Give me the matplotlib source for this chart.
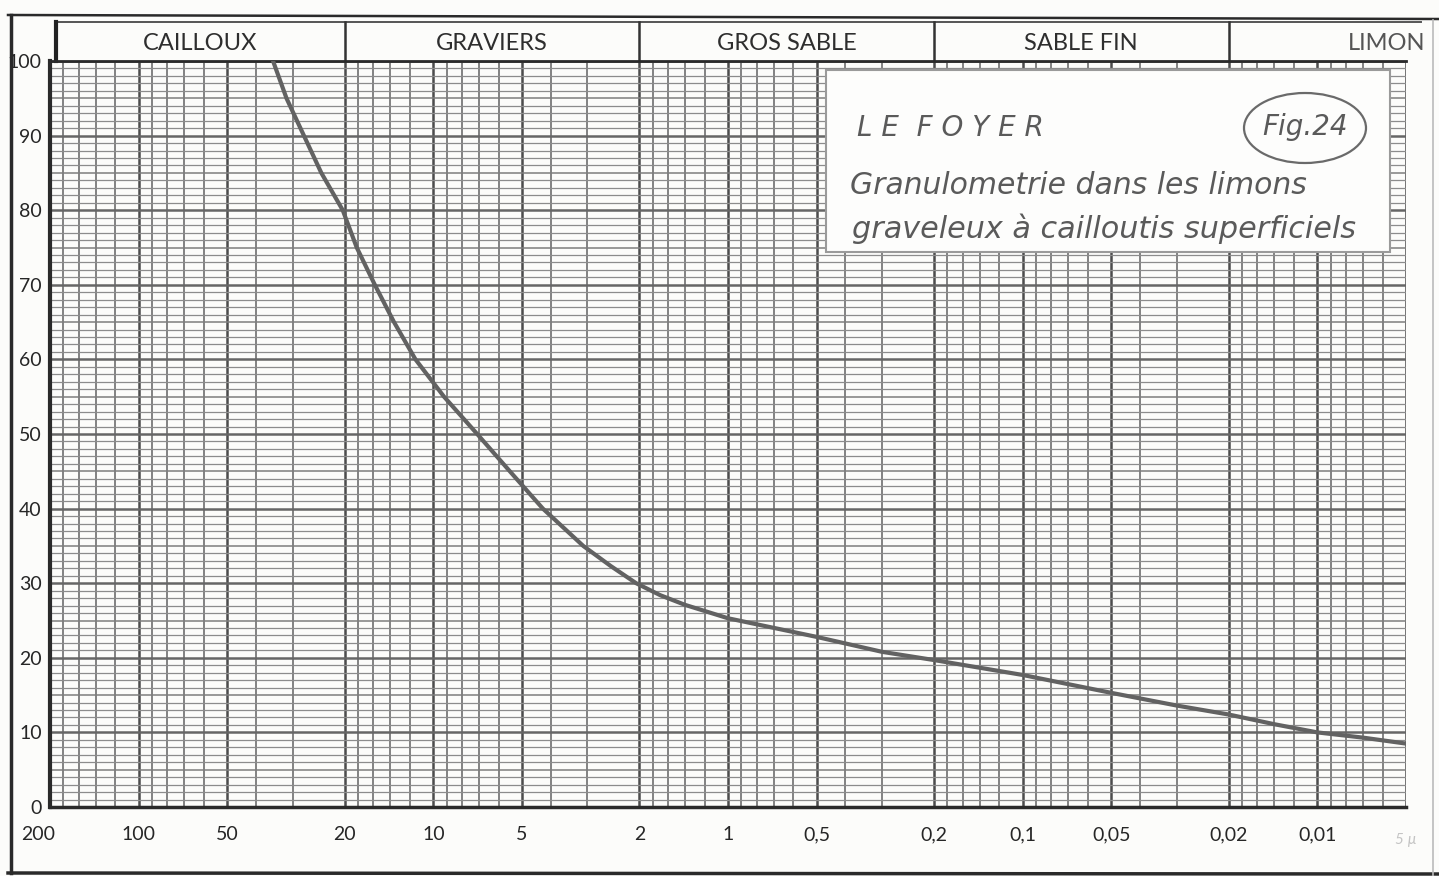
import numpy as np
import matplotlib.pyplot as plt
import matplotlib.transforms as mtransforms
from matplotlib.lines import Line2D
from matplotlib.patches import Rectangle, Ellipse

# grain size (mm) and cumulative percentage passing
sizes = [35, 31.5, 27.5, 24, 20.3, 18.2, 15.8, 13.6, 11.5, 9.2, 7.1, 5.5,
         4.25, 3.1, 2.5, 2.05, 1.7, 1.4, 1.0, 0.5, 0.3, 0.2, 0.1, 0.05,
         0.03, 0.02, 0.014, 0.01, 0.007, 0.005]
passing = [100, 95, 90, 85, 80, 75, 70, 65, 60, 55, 50, 45,
           40, 35, 32.3, 30, 28.4, 27.1, 25.3, 22.8, 20.8, 19.7, 17.7, 15.3,
           13.6, 12.4, 11.1, 10.0, 9.3, 8.5]

x_ticks = [200, 100, 50, 20, 10, 5, 2, 1, 0.5, 0.2, 0.1, 0.05, 0.02, 0.01]
x_labels = ["200", "100", "50", "20", "10", "5", "2", "1", "0,5", "0,2",
            "0,1", "0,05", "0,02", "0,01"]
y_ticks = list(range(0, 101, 10))

classes = ["CAILLOUX", "GRAVIERS", "GROS SABLE", "SABLE FIN", "LIMON"]
class_bounds = [191, 20, 2, 0.2, 0.02, 0.00445]

W, H = 1439, 876
fig = plt.figure(figsize=(W / 100, H / 100), dpi=100)
fig.patch.set_facecolor("#fcfcfa")
ax = fig.add_axes([50 / W, 69 / H, 1356 / W, 746 / H])
ax.set_facecolor("#fcfcfa")
ax.set_xscale("log")
ax.set_xlim(200, 0.005)
ax.set_ylim(0, 100)

# log paper grid: 1, 1.2 ... 2, 3 ... 9 per decade
for dec in [0.001, 0.01, 0.1, 1, 10, 100]:
    for m in [1, 1.2, 1.4, 1.6, 1.8, 2, 3, 4, 5, 6, 7, 8, 9]:
        v = round(m * dec, 6)
        if v < 0.005 or v > 200:
            continue
        heavy = m in (1, 2, 5)
        ax.axvline(v, color="#4c4c4c" if heavy else "#6e6e6e",
                   lw=1.8 if heavy else 1.2, zorder=1)
for p in range(0, 101):
    if p % 10 == 0:
        ax.axhline(p, color="#666666", lw=1.8, zorder=1)
    elif p % 5 == 0:
        ax.axhline(p, color="#7e7e7e", lw=1.1, zorder=1)
    else:
        ax.axhline(p, color="#8c8c8c", lw=0.9, zorder=1)

ax.plot(sizes, passing, color="#626262", lw=3, zorder=3,
        solid_capstyle="round", solid_joinstyle="round")

ax.set_xticks(x_ticks)
ax.set_xticklabels(x_labels)
ax.xaxis.set_minor_locator(plt.NullLocator())
ax.set_yticks(y_ticks)
ax.set_yticklabels([str(v) for v in y_ticks])
ax.tick_params(length=0, labelsize=14, colors="#262626")
ax.tick_params(axis="x", pad=14)
ax.tick_params(axis="y", pad=6)
for lbl in ax.get_xticklabels() + ax.get_yticklabels():
    lbl.set_fontfamily("Lato")
first = ax.get_xticklabels()[0]
first.set_transform(first.get_transform() +
                    mtransforms.ScaledTranslation(-0.12, 0, fig.dpi_scale_trans))
ax.text(0.005, -0.044, "5 µ", transform=ax.get_xaxis_transform(),
        ha="center", va="center", fontsize=11, color="#c4c4c4",
        family="Lato", style="italic")

for side in ["left", "bottom", "top"]:
    ax.spines[side].set_color("#2a2a2a")
ax.spines["left"].set_linewidth(3)
ax.spines["bottom"].set_linewidth(2.5)
ax.spines["top"].set_linewidth(2)
ax.spines["right"].set_visible(False)

# soil class header above the grid
hx = ax.get_xaxis_transform()
top = 1.052
ax.add_line(Line2D([class_bounds[0], class_bounds[-1]], [top, top],
                   transform=hx, color="#555555", lw=1.4, clip_on=False))
ax.add_line(Line2D([class_bounds[0], class_bounds[0]], [1, top],
                   transform=hx, color="#222222", lw=3, clip_on=False))
for b in class_bounds[1:-1]:
    ax.add_line(Line2D([b, b], [1, top], transform=hx, color="#333333",
                       lw=1.8, clip_on=False))
for i, name in enumerate(classes[:-1]):
    mid = np.sqrt(class_bounds[i] * class_bounds[i + 1])
    ax.text(mid, 1.024, name, transform=hx, ha="center", va="center",
            fontsize=17, family="Lato", color="#2e2e2e")
ax.text(0.0043, 1.024, classes[-1], transform=hx, ha="right", va="center",
        fontsize=17, family="Lato", color="#555555")

# title panel
ft = fig.transFigure
ax.add_patch(Rectangle((826 / W, (H - 252) / H), 564 / W, 182 / H,
                       transform=ft, facecolor="#fdfdfc",
                       edgecolor="#9a9a9a", lw=1.5, zorder=5,
                       clip_on=False))
txt_kw = dict(transform=ft, family="DejaVu Sans", style="oblique",
              color="#5a5a5a", zorder=6, va="center", ha="left")
ax.text(857 / W, (H - 128) / H, "L E  F O Y E R", fontsize=20, **txt_kw)
ax.text(850 / W, (H - 185) / H, "Granulometrie dans les limons",
        fontsize=21.5, **txt_kw)
ax.text(852 / W, (H - 229) / H, "graveleux à cailloutis superficiels",
        fontsize=21.8, **txt_kw)
ax.add_patch(Ellipse((1305 / W, (H - 128) / H), 122 / W, 70 / H,
                     transform=ft, facecolor="none", edgecolor="#6a6a6a",
                     lw=1.6, zorder=6, clip_on=False))
ax.text(1305 / W, (H - 127) / H, "Fig.24", fontsize=20,
        **{**txt_kw, "ha": "center"})

# page frame
frame = dict(transform=ft, color="#2a2a2a", clip_on=False)
ax.add_line(Line2D([11 / W, 11 / W], [(H - 15) / H, 3 / H], lw=2.5, **frame))
ax.add_line(Line2D([8 / W, 1], [(H - 15) / H, (H - 19) / H], lw=1.8, **frame))
ax.add_line(Line2D([8 / W, 1], [3 / H, 2 / H], lw=2.5, **frame))
ax.add_line(Line2D([1433 / W, 1433 / W], [(H - 20) / H, 0], lw=1.2,
                   transform=ft, color="#bbbbbb", clip_on=False))

fig.savefig("out.png", dpi=100, facecolor=fig.get_facecolor())
